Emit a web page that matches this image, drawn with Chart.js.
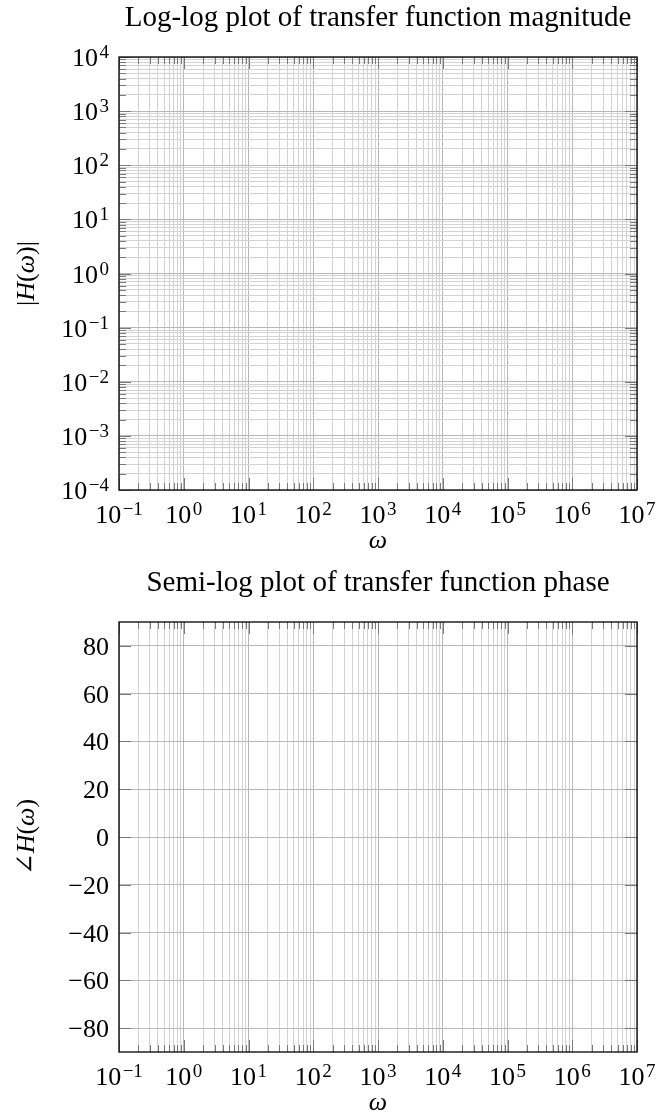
<!DOCTYPE html>
<html>
<head>
<meta charset="utf-8">
<script src="https://cdn.jsdelivr.net/npm/chart.js@4.4.0/dist/chart.umd.min.js"></script>
<style>
  body { margin: 0; background: #fff; }
  canvas { display: block; }
</style>
</head>
<body>
<canvas id="magChart" width="656" height="560"></canvas>
<canvas id="phaseChart" width="656" height="556"></canvas>
<script>
// tick values
const freqExponents = [-1, 0, 1, 2, 3, 4, 5, 6, 7];
const magExponents = [-4, -3, -2, -1, 0, 1, 2, 3, 4];
const minorSteps = [2, 3, 4, 5, 6, 7, 8, 9];
const phaseTicks = [-80, -60, -40, -20, 0, 20, 40, 60, 80];
const phaseRange = [-90, 90];

// both plots are empty grids, no curve is drawn
const magValues = [];
const phaseValues = [];

const magTitle = 'Log-log plot of transfer function magnitude';
const phaseTitle = 'Semi-log plot of transfer function phase';
const magLabel = [['|', false], ['H', true], ['(', false], ['\u03c9', true], [')|', false]];
const phaseLabel = [['\u2220', false], ['H', true], ['(', false], ['\u03c9', true], [')', false]];
const freqLabel = '\u03c9';

const FAMILY = '"Liberation Serif", "DejaVu Serif", serif';
const majorGrid = '#b8b8b8';
const minorGrid = '#d3d3d3';
const tickColor = '#7a7a7a';

function logTicks(exps, withMinor) {
  let out = [];
  exps.forEach((e, i) => {
    out.push({ value: Math.pow(10, e), major: true });
    if (withMinor && i < exps.length - 1) {
      minorSteps.forEach(m => out.push({ value: m * Math.pow(10, e), major: false }));
    }
  });
  return out;
}

function fmtNum(v) {
  return v < 0 ? '\u2212' + Math.abs(v) : String(v);
}

// "10" with a raised exponent
function drawPower(ctx, exp, x, y, align) {
  const base = '10';
  const sup = fmtNum(exp);
  ctx.font = '26px ' + FAMILY;
  const wb = ctx.measureText(base).width;
  ctx.font = '19px ' + FAMILY;
  const ws = ctx.measureText(sup).width;
  const w = wb + ws + 1.5;
  const x0 = align === 'center' ? x - w / 2 : x - w;
  ctx.textAlign = 'left';
  ctx.font = '26px ' + FAMILY;
  ctx.fillText(base, x0, y);
  ctx.font = '19px ' + FAMILY;
  ctx.fillText(sup, x0 + wb + 1.5, y - 8);
}

function drawRich(ctx, parts, x, y) {
  let total = 0;
  parts.forEach(p => {
    ctx.font = (p[1] ? 'italic ' : '') + '26px ' + FAMILY;
    total += ctx.measureText(p[0]).width;
  });
  let cx = x - total / 2;
  ctx.textAlign = 'left';
  parts.forEach(p => {
    ctx.font = (p[1] ? 'italic ' : '') + '26px ' + FAMILY;
    ctx.fillText(p[0], cx, y);
    cx += ctx.measureText(p[0]).width;
  });
}

const pgfFrame = {
  id: 'pgfFrame',
  afterDraw(chart, args, o) {
    const { ctx, chartArea: a } = chart;
    const x = chart.scales.x, y = chart.scales.y;
    ctx.save();

    // tick marks inside the frame
    ctx.strokeStyle = tickColor;
    ctx.lineWidth = 1;
    ctx.beginPath();
    x.ticks.forEach(t => {
      const px = Math.round(x.getPixelForValue(t.value)) + 0.5;
      const len = t.major ? 12 : 7;
      ctx.moveTo(px, a.bottom); ctx.lineTo(px, a.bottom - len);
      ctx.moveTo(px, a.top); ctx.lineTo(px, a.top + len);
    });
    y.ticks.forEach(t => {
      const py = Math.round(y.getPixelForValue(t.value)) + 0.5;
      const len = t.major ? 12 : 7;
      ctx.moveTo(a.left, py); ctx.lineTo(a.left + len, py);
      ctx.moveTo(a.right, py); ctx.lineTo(a.right - len, py);
    });
    ctx.stroke();

    // frame
    ctx.strokeStyle = '#000';
    ctx.lineWidth = 1.3;
    ctx.strokeRect(a.left, a.top, a.right - a.left, a.bottom - a.top);

    ctx.fillStyle = '#000';
    ctx.textBaseline = 'alphabetic';

    // title
    ctx.font = '29px ' + FAMILY;
    ctx.textAlign = 'center';
    ctx.fillText(o.title, (a.left + a.right) / 2, o.titleY);

    // x tick labels
    freqExponents.forEach(e => {
      drawPower(ctx, e, x.getPixelForValue(Math.pow(10, e)), a.bottom + 33, 'center');
    });

    // y tick labels
    if (o.logY) {
      magExponents.forEach(e => {
        drawPower(ctx, e, a.left - 10, y.getPixelForValue(Math.pow(10, e)) + 9, 'right');
      });
    } else {
      ctx.font = '26px ' + FAMILY;
      ctx.textAlign = 'right';
      phaseTicks.forEach(v => {
        ctx.fillText(fmtNum(v), a.left - 10, y.getPixelForValue(v) + 9);
      });
    }

    // axis titles
    ctx.font = 'italic 26px ' + FAMILY;
    ctx.textAlign = 'center';
    ctx.fillText(freqLabel, (a.left + a.right) / 2, a.bottom + 58);

    ctx.translate(34, (a.top + a.bottom) / 2);
    ctx.rotate(-Math.PI / 2);
    drawRich(ctx, o.yLabel, 0, 0);

    ctx.restore();
  }
};

function makeChart(id, cfg) {
  return new Chart(document.getElementById(id), {
    type: 'line',
    data: {
      datasets: [{ data: cfg.values, borderColor: '#1f4e9c', pointRadius: 0 }]
    },
    options: {
      responsive: false,
      animation: false,
      events: [],
      layout: { padding: { top: cfg.top, right: 19, left: 0, bottom: 0 } },
      plugins: {
        legend: { display: false },
        title: { display: false },
        tooltip: { enabled: false },
        pgfFrame: { title: cfg.title, titleY: cfg.titleY, logY: cfg.logY, yLabel: cfg.yLabel }
      },
      scales: {
        x: {
          type: 'logarithmic',
          min: Math.pow(10, freqExponents[0]),
          max: Math.pow(10, freqExponents[freqExponents.length - 1]),
          ticks: { display: false, autoSkip: false },
          border: { display: false },
          grid: {
            drawTicks: false,
            color: c => (c.tick && c.tick.major ? majorGrid : minorGrid)
          },
          afterBuildTicks: s => { s.ticks = logTicks(freqExponents, true); },
          afterFit: s => { s.height = cfg.xSpace; }
        },
        y: cfg.logY ? {
          type: 'logarithmic',
          min: Math.pow(10, magExponents[0]),
          max: Math.pow(10, magExponents[magExponents.length - 1]),
          ticks: { display: false, autoSkip: false },
          border: { display: false },
          grid: {
            drawTicks: false,
            color: c => (c.tick && c.tick.major ? majorGrid : minorGrid)
          },
          afterBuildTicks: s => { s.ticks = logTicks(magExponents, true); },
          afterFit: s => { s.width = 119; }
        } : {
          type: 'linear',
          min: phaseRange[0],
          max: phaseRange[1],
          ticks: { display: false, autoSkip: false },
          border: { display: false },
          grid: { drawTicks: false, color: majorGrid },
          afterBuildTicks: s => { s.ticks = phaseTicks.map(v => ({ value: v, major: true })); },
          afterFit: s => { s.width = 119; }
        }
      }
    },
    plugins: [pgfFrame]
  });
}

makeChart('magChart', {
  values: magValues, title: magTitle, titleY: 26, logY: true,
  yLabel: magLabel, top: 57, xSpace: 70
});
makeChart('phaseChart', {
  values: phaseValues, title: phaseTitle, titleY: 31, logY: false,
  yLabel: phaseLabel, top: 62, xSpace: 64
});
</script>
</body>
</html>
